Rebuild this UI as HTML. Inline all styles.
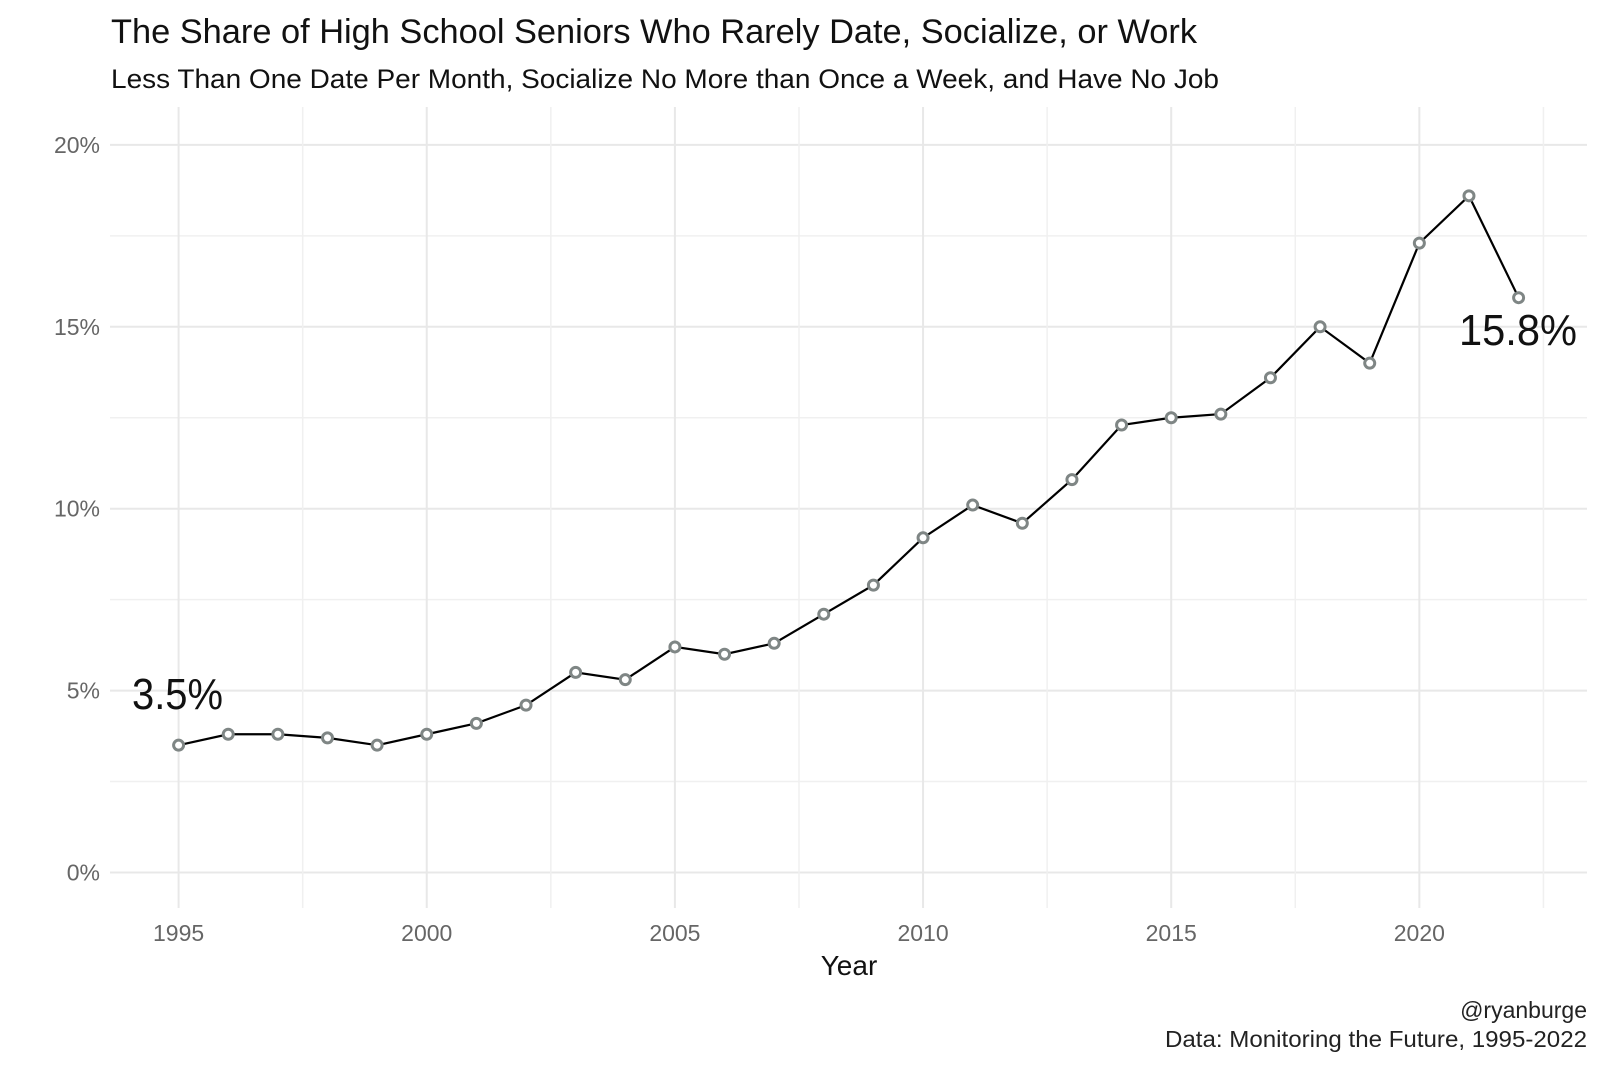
<!DOCTYPE html>
<html><head><meta charset="utf-8"><style>body{margin:0;background:#fff}svg{display:block}text{font-family:"Liberation Sans",sans-serif}</style></head>
<body>
<svg id="chart" width="1600" height="1066" viewBox="0 0 1600 1066">
<rect width="1600" height="1066" fill="#fff"/>
<text x="111" y="43" font-size="34" fill="#111" textLength="1086" lengthAdjust="spacingAndGlyphs">The Share of High School Seniors Who Rarely Date, Socialize, or Work</text>
<text x="111" y="88" font-size="27" fill="#111" textLength="1108" lengthAdjust="spacingAndGlyphs">Less Than One Date Per Month, Socialize No More than Once a Week, and Have No Job</text>
<g id="grid"></g><g id="axes"></g><g id="series"></g>
<text x="132" y="709" font-size="44" fill="#111" textLength="91" lengthAdjust="spacingAndGlyphs">3.5%</text>
<text x="1459" y="345" font-size="44" fill="#111" textLength="118" lengthAdjust="spacingAndGlyphs">15.8%</text>
<text x="849" y="975" font-size="28" fill="#111" text-anchor="middle">Year</text>
<text x="1587" y="1018" font-size="23" fill="#222" text-anchor="end">@ryanburge</text>
<text x="1587" y="1047" font-size="23" fill="#222" text-anchor="end" textLength="422" lengthAdjust="spacingAndGlyphs">Data: Monitoring the Future, 1995-2022</text>
</svg>
<script>
const years=[1995,1996,1997,1998,1999,2000,2001,2002,2003,2004,2005,2006,2007,2008,2009,2010,2011,2012,2013,2014,2015,2016,2017,2018,2019,2020,2021,2022];
const shares=[3.5,3.8,3.8,3.7,3.5,3.8,4.1,4.6,5.5,5.3,6.2,6.0,6.3,7.1,7.9,9.2,10.1,9.6,10.8,12.3,12.5,12.6,13.6,15.0,14.0,17.3,18.6,15.8];
const yTicks=[0,5,10,15,20];
const yTickLabels=["0%","5%","10%","15%","20%"];
const xTicks=[1995,2000,2005,2010,2015,2020];
const xTickLabels=["1995","2000","2005","2010","2015","2020"];
const NS="http://www.w3.org/2000/svg";
const xs=v=>178.6+(v-1995)*49.63;
const ys=v=>872.5-v*36.38;
function mk(tag,attrs,parent){const e=document.createElementNS(NS,tag);for(const k in attrs)e.setAttribute(k,attrs[k]);document.getElementById(parent).appendChild(e);return e;}
const L=110,R=1587,T=107,B=908;
for(let v=0;v<=20;v+=2.5){const l=mk('line',{x1:L,x2:R,y1:ys(v),y2:ys(v),stroke:v%5===0?'#e8e8e8':'#f0f0f0','stroke-width':v%5===0?2:1.5},'grid');

}
for(let v=1995;v<=2022.5;v+=2.5){const l=mk('line',{x1:xs(v),x2:xs(v),y1:T,y2:B,stroke:v%5===0?'#e8e8e8':'#f0f0f0','stroke-width':v%5===0?2:1.5},'grid');

}
yTicks.forEach((v,i)=>{const t=mk('text',{x:100,y:ys(v)+8,'font-size':23,fill:'#666','text-anchor':'end'},'axes');t.textContent=yTickLabels[i];

});
xTicks.forEach((v,i)=>{const t=mk('text',{x:xs(v),y:941,'font-size':23,fill:'#666','text-anchor':'middle'},'axes');t.textContent=xTickLabels[i];

});
const p=mk('polyline',{points:years.map((y,i)=>xs(y)+','+ys(shares[i])).join(' '),fill:'none',stroke:'#000','stroke-width':2.2},'series');


years.forEach((y,i)=>{const c=mk('circle',{cx:xs(y),cy:ys(shares[i]),r:5,fill:'#fff',stroke:'#7f8685','stroke-width':3},'series');

});
</script>
</body></html>
